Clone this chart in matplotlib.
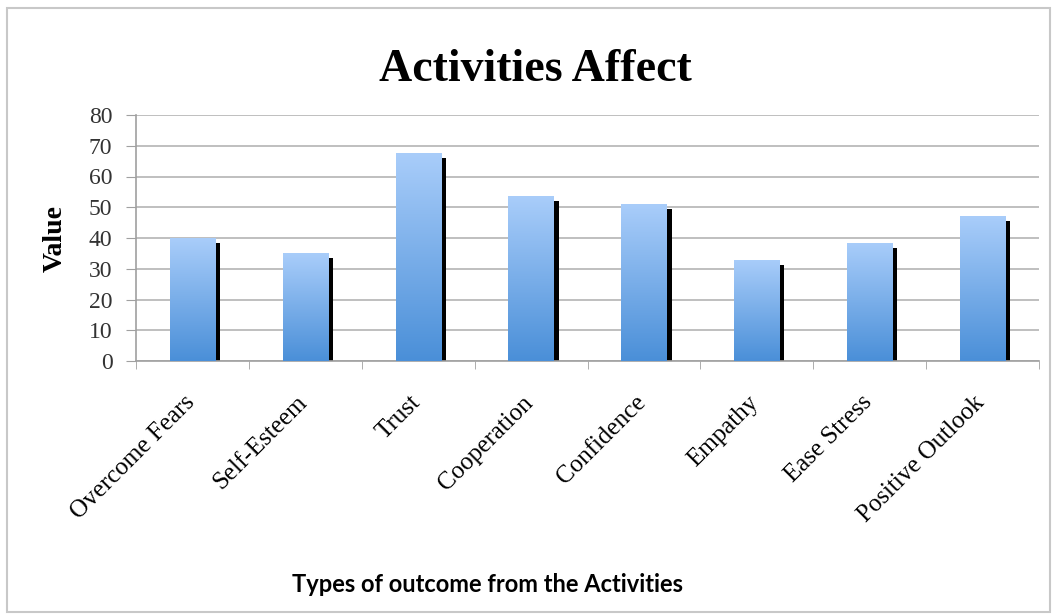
import matplotlib
matplotlib.use("Agg")
import matplotlib.pyplot as plt
import numpy as np
from matplotlib.transforms import ScaledTranslation
from matplotlib.colors import LinearSegmentedColormap
from matplotlib.patches import Rectangle

categories = ["Overcome Fears", "Self-Esteem", "Trust", "Cooperation",
              "Confidence", "Empathy", "Ease Stress", "Positive Outlook"]
values = [40, 35, 67.5, 53.5, 51, 33, 38.5, 47]
yticks = [0, 10, 20, 30, 40, 50, 60, 70, 80]

title = "Activities Affect"
ylabel = "Value"
xlabel = "Types of outcome from the Activities"

W, H = 1055, 615
fig = plt.figure(figsize=(W / 100, H / 100), dpi=100)
fig.patch.set_facecolor("white")

# outer chart frame
fig.add_artist(Rectangle((7 / W, 3 / H), 1043 / W, 604 / H, transform=fig.transFigure,
                         fill=False, edgecolor="#c8c8c8", linewidth=1.5))

ax = fig.add_axes([136 / W, (H - 361) / H, (1039 - 136) / W, (361 - 115) / H])

x = np.arange(len(categories))
bw = 0.4
cmap = LinearSegmentedColormap.from_list("g", ["#4a8fd8", "#a9cdfa"])
grad = np.linspace(0, 1, 256).reshape(-1, 1)

shadow_tr = ax.transData + ScaledTranslation(5 / 100, -5 / 100, fig.dpi_scale_trans)
ax.bar(x, values, width=bw, color="black", transform=shadow_tr, zorder=2, clip_on=True)
bars = ax.bar(x, values, width=bw, color="none", zorder=3)
for b in bars:
    x0, w, h = b.get_x(), b.get_width(), b.get_height()
    im = ax.imshow(grad, extent=(x0, x0 + w, 0, h), origin="lower", cmap=cmap,
                   aspect="auto", zorder=3)
    im.set_clip_path(b)

ax.set_xlim(-0.5, len(categories) - 0.5)
ax.set_ylim(0, 80)
ax.set_yticks(yticks)
ax.set_yticklabels([str(t) for t in yticks], family="Liberation Serif", fontsize=17, color="#333333")
ax.yaxis.grid(True, color="#b4b4b4", linewidth=1.2, zorder=0)
ax.set_axisbelow(True)

ax.set_xticks(x)
ax.set_xticklabels(categories, rotation=45, ha="right", rotation_mode="anchor",
                   family="Liberation Serif", fontsize=18)
ax.set_xticks(np.arange(-0.5, len(categories)), minor=True)
ax.tick_params(axis="x", which="major", length=0, pad=22)
ax.tick_params(axis="x", which="minor", length=6, color="#a0a0a0", direction="out")
ax.tick_params(axis="y", length=7, color="#a0a0a0", pad=10)
shift = ScaledTranslation(-9 / 100, 0, fig.dpi_scale_trans)
for lab in ax.get_xticklabels():
    lab.set_transform(lab.get_transform() + shift)

for s in ["top", "right"]:
    ax.spines[s].set_visible(False)
for s in ["left", "bottom"]:
    ax.spines[s].set_color("#a0a0a0")
    ax.spines[s].set_linewidth(1.2)

fig.text(535 / W, 1 - 70 / H, title, ha="center", va="center",
         family="Liberation Serif", fontweight="bold", fontsize=33)
fig.text(55 / W, 1 - 238 / H, ylabel, ha="center", va="center", rotation=90,
         family="Liberation Serif", fontweight="bold", fontsize=20)
fig.text(487 / W, 1 - 585 / H, xlabel, ha="center", va="center",
         family="Lato", fontweight="bold", fontsize=17)

fig.savefig("out.png", dpi=100, facecolor="white")
